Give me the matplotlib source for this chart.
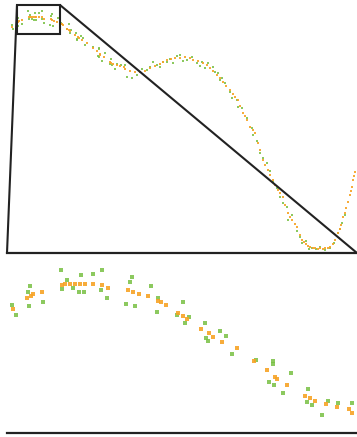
import matplotlib
matplotlib.use("Agg")
import matplotlib.pyplot as plt
from matplotlib.patches import Rectangle, ConnectionPatch

# ---- data (abstract units) ----
orange_x = [5.3, 10.0, 11.3, 12.0, 15.0, 21.7, 22.7, 24.3, 26.0, 27.7, 29.3, 32.0, 35.0, 37.0,
            43.7, 45.3, 47.3, 50.3, 53.7, 54.7, 56.3, 60.3, 62.0, 63.3, 68.0, 70.7, 72.0, 75.0,
            80.0, 85.7, 90.0, 92.7, 93.3, 96.7, 102.7, 104.3, 106.0, 109.7, 113.3, 117.3, 118.3,
            123, 133, 143, 153, 160, 168, 173, 178, 186, 196, 203, 210, 216, 223, 228, 231, 236,
            240, 243, 248, 251, 256, 261, 266, 271, 276, 281, 285, 290, 295, 299, 303, 308, 313,
            318, 323, 328, 331, 334, 336, 339, 341, 343, 345, 346, 348,
            128, 138, 148, 156, 164, 183, 191, 200, 206, 213, 219, 226, 233, 238, 246, 253, 258,
            263, 268, 273, 278, 283, 288, 293, 297, 301, 306, 311, 316, 321, 326, 333, 338, 344, 347]
orange_y = [226.0, 230.4, 231.2, 232.0, 232.8, 235.6, 236.0, 236.0, 236.0, 236.0, 236.0, 236.0,
            235.6, 234.4, 233.6, 232.8, 232.0, 231.2, 229.2, 228.8, 227.6, 224.4, 223.2, 222.0,
            218.0, 216.4, 214.8, 212.8, 210.4, 205.2, 201.6, 198.8, 198.0, 195.6, 191.2, 190.4,
            189.2, 188.0, 186.8, 186.0, 184.4,
            182, 181, 185, 189, 193, 195, 195, 196, 193, 190, 185, 178, 171, 163, 156, 153, 140,
            133, 126, 120, 110, 93, 83, 73, 63, 56, 40, 33, 26, 13, 9, 6, 5, 5,
            5, 6, 13, 20, 28, 36, 45, 51, 58, 66, 73, 81,
            181, 182, 187, 191, 194, 195, 192, 188, 182, 175, 167, 159, 147, 137, 123, 103, 88,
            78, 68, 60, 48, 36, 29, 18, 11, 7, 5, 4, 4, 5, 9, 24, 40, 62, 77]

green_x = [5.0, 6.3, 11.0, 10.3, 10.7, 15.3, 21.3, 21.7, 23.3, 25.3, 28.0, 27.3, 29.0, 32.0,
           35.0, 34.7, 36.7, 44.3, 45.0, 43.0, 46.0, 51.3, 53.7, 53.3, 60.0, 62.0, 64.0, 62.7,
           69.3, 74.3, 69.7, 70.3, 76.3, 78.3, 86.3, 92.0, 92.0, 98.0, 90.7, 92.3, 95.3, 103.7,
           103.3, 105.0, 108.3, 110.3, 113.7, 118.3,
           120, 130, 140, 146, 150, 156, 160, 166, 173, 180, 190, 195, 198, 206, 211, 213, 215,
           223, 225, 230, 231, 245, 246, 256, 260, 266, 273, 280, 281, 293, 295, 305, 313, 323,
           331, 335,
           125, 135, 143, 153, 163, 170, 176, 185, 193, 201, 208, 218, 235, 240, 250, 253, 263,
           270, 276, 285, 290, 299, 302, 309, 318, 327, 333, 338]
green_y = [227.6, 223.6, 235.2, 232.8, 227.2, 228.8, 241.6, 234.0, 237.6, 234.4, 239.6, 232.8,
           232.8, 240.0, 241.6, 233.6, 230.4, 236.8, 238.8, 228.0, 227.2, 235.2, 230.4, 224.8,
           223.6, 228.8, 222.8, 220.4, 220.4, 217.2, 214.4, 213.2, 215.2, 208.0, 205.6, 205.2,
           204.0, 200.4, 196.8, 195.6, 192.4, 194.0, 188.8, 187.6, 183.6, 189.2, 188.4, 188.4,
           176, 178, 183, 191, 188, 191, 191, 190, 198, 193, 190, 191, 185, 186, 180, 173, 175,
           161, 155, 153, 146, 125, 118, 95, 90, 71, 56, 46, 33, 16, 10, 5, 6, 5,
           20, 30,
           175, 184, 186, 186, 194, 197, 192, 196, 187, 190, 181, 170, 145, 135, 112, 100, 82,
           65, 50, 38, 22, 12, 4, 4, 3, 10, 24, 38]

# zoom box drawn on the overview and limits of the detail view
box_x = [10, 53]
box_y = [219, 248]
detail_xlim = [3.3, 120]
detail_ylim = [176.4, 248.4]

ORANGE = "#f7a325"
GREEN = "#78c043"

W, H = 357, 437
fig = plt.figure(figsize=(W / 100, H / 100), dpi=100)

ax_top = fig.add_axes([7 / W, (H - 253) / H, 350 / W, 253 / H])
ax_bot = fig.add_axes([7 / W, (H - 433) / H, 350 / W, 180 / H])

for ax, s in ((ax_top, 4), (ax_bot, 8)):
    ax.scatter(green_x, green_y, s=s, color=GREEN, marker="s", linewidths=0, alpha=0.85, zorder=2)
    ax.scatter(orange_x, orange_y, s=s, color=ORANGE, marker="s", linewidths=0, alpha=0.9, zorder=3)
    ax.set_xticks([])
    ax.set_yticks([])
    for side in ("top", "right", "left"):
        ax.spines[side].set_visible(False)
    ax.spines["bottom"].set_linewidth(1.6)
    ax.spines["bottom"].set_color("#222222")
    ax.patch.set_alpha(0)

ax_top.set_xlim(0, 350)
ax_top.set_ylim(0, 253)
ax_bot.set_xlim(*detail_xlim)
ax_bot.set_ylim(*detail_ylim)

rect = Rectangle((box_x[0], box_y[0]), box_x[1] - box_x[0], box_y[1] - box_y[0],
                 fill=False, edgecolor="#222222", linewidth=1.5, zorder=5, clip_on=False)
ax_top.add_patch(rect)

for xa, xb in ((box_x[0], 0), (box_x[1], 1)):
    con = ConnectionPatch(xyA=(xa, box_y[1]), coordsA=ax_top.transData,
                          xyB=(xb, 1), coordsB=ax_bot.transAxes,
                          color="#222222", linewidth=1.5, zorder=6)
    fig.add_artist(con)

fig.savefig("out.png", dpi=100)
